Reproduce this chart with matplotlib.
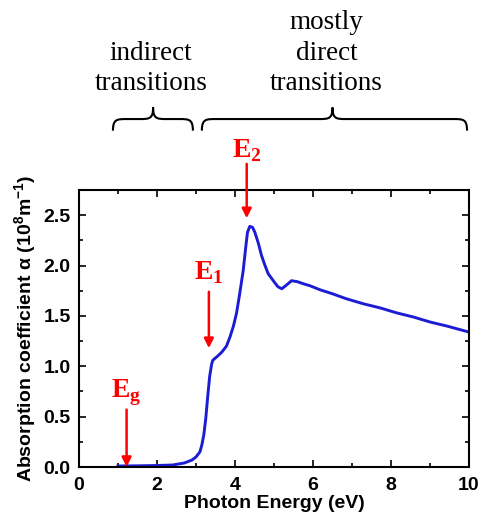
import numpy as np
import matplotlib
matplotlib.use("Agg")
from matplotlib import pyplot as plt
from matplotlib.path import Path
from matplotlib.patches import PathPatch
from matplotlib.ticker import MultipleLocator

plt.rcParams['mathtext.fontset'] = 'custom'
plt.rcParams['mathtext.rm'] = 'Liberation Sans:bold'
plt.rcParams['mathtext.bf'] = 'Liberation Serif:bold'

# absorption spectrum
energy = [1.0, 1.5, 2.0, 2.4, 2.7, 2.9, 3.0, 3.1, 3.15, 3.2, 3.25, 3.3, 3.35, 3.4, 3.43,
          3.55, 3.66, 3.78, 3.87, 3.96, 4.04, 4.12, 4.21, 4.28, 4.32, 4.38, 4.45, 4.51,
          4.6, 4.68, 4.77, 4.85, 5.0, 5.1, 5.2, 5.3, 5.45, 5.6, 5.75, 5.92, 6.18, 6.5,
          6.86, 7.3, 7.72, 8.15, 8.57, 9.0, 9.43, 10.0]
alpha = [0.01, 0.012, 0.015, 0.02, 0.04, 0.07, 0.1, 0.15, 0.22, 0.32, 0.48, 0.7, 0.9, 1.02, 1.06,
         1.1, 1.14, 1.2, 1.29, 1.4, 1.53, 1.72, 1.95, 2.2, 2.33, 2.39, 2.38, 2.33,
         2.22, 2.1, 2.0, 1.92, 1.84, 1.79, 1.77, 1.8, 1.85, 1.84, 1.82, 1.8, 1.76, 1.72,
         1.67, 1.62, 1.58, 1.53, 1.49, 1.44, 1.4, 1.34]

# arrows: (subscript, x, label baseline, arrow top, arrow tip)
marks = [("g", 1.22, 0.69, 0.57, 0.0),
         ("1", 3.33, 1.86, 1.74, 1.18),
         ("2", 4.3, 3.08, 3.01, 2.47)]

fig = plt.figure(figsize=(4.83, 5.21), dpi=100)
ax = fig.add_axes([0.1636, 0.1036, 0.8074, 0.5316])
ax.plot(energy, alpha, color='#1c1cd4', lw=2.1)
ax.set_xlim(0, 10)
ax.set_ylim(0, 2.75)
ax.xaxis.set_major_locator(MultipleLocator(2))
ax.xaxis.set_minor_locator(MultipleLocator(1))
ax.yaxis.set_major_locator(MultipleLocator(0.5))
ax.yaxis.set_minor_locator(MultipleLocator(0.25))
ax.tick_params(which='both', direction='in', top=True, right=True, width=1.2,
               labelsize=14)
ax.tick_params(which='major', length=5)
ax.tick_params(which='minor', length=3)
ax.tick_params(axis='x', which='major', pad=7)
ax.tick_params(axis='y', which='major', pad=6)
ax.set_xticks([0, 2, 4, 6, 8, 10])
ax.set_xticklabels(['0', '2', '4', '6', '8', '10'])
for lab in ax.get_xticklabels() + ax.get_yticklabels():
    lab.set_fontweight('bold')
    lab.set_family('Liberation Sans')
for s in ax.spines.values():
    s.set_linewidth(1.5)
ax.set_xlabel('Photon Energy (eV)', fontsize=14, fontweight='bold',
              family='Liberation Sans', labelpad=1)
ax.set_ylabel(r'Absorption coefficient α (10$^{8}$m$^{-1}$)', fontsize=14,
              fontweight='bold', family='Liberation Sans', labelpad=3)

for sub, x, ylab, ytop, ytip in marks:
    ax.annotate('', xy=(x, ytip), xytext=(x, ytop), annotation_clip=False,
                arrowprops=dict(arrowstyle='-|>', color='red', lw=1.8,
                                mutation_scale=14, shrinkA=0, shrinkB=0))
    ax.text(x, ylab, r'$\mathbf{E}_{\mathbf{%s}}$' % sub, color='red', fontsize=20,
            ha='center', va='baseline', clip_on=False)


def brace(x0, x1, xm, yb, yt):
    ym = (yb + yt) / 2
    r = 0.35
    verts = [(x0, yb), (x0, ym), (x0 + r * 0.3, ym), (x0 + r, ym),
             (xm - r, ym),
             (xm - r * 0.3, ym), (xm, ym), (xm, yt),
             (xm, ym), (xm + r * 0.3, ym), (xm + r, ym),
             (x1 - r, ym),
             (x1 - r * 0.3, ym), (x1, ym), (x1, yb)]
    codes = [Path.MOVETO, Path.CURVE4, Path.CURVE4, Path.CURVE4,
             Path.LINETO,
             Path.CURVE4, Path.CURVE4, Path.CURVE4,
             Path.CURVE4, Path.CURVE4, Path.CURVE4,
             Path.LINETO,
             Path.CURVE4, Path.CURVE4, Path.CURVE4]
    ax.add_patch(PathPatch(Path(verts, codes), fill=False, lw=1.5, color='black',
                           clip_on=False))


brace(0.87, 2.92, 1.9, 3.34, 3.57)
brace(3.15, 9.95, 6.5, 3.34, 3.57)
ax.text(1.85, 3.68, 'indirect\ntransitions', ha='center', va='bottom', fontsize=19.5,
        family='Liberation Serif', linespacing=1.3)
ax.text(6.35, 3.68, 'mostly\ndirect\ntransitions', ha='center', va='bottom',
        fontsize=19.5, family='Liberation Serif', linespacing=1.3)

fig.savefig('out.png', dpi=100)
